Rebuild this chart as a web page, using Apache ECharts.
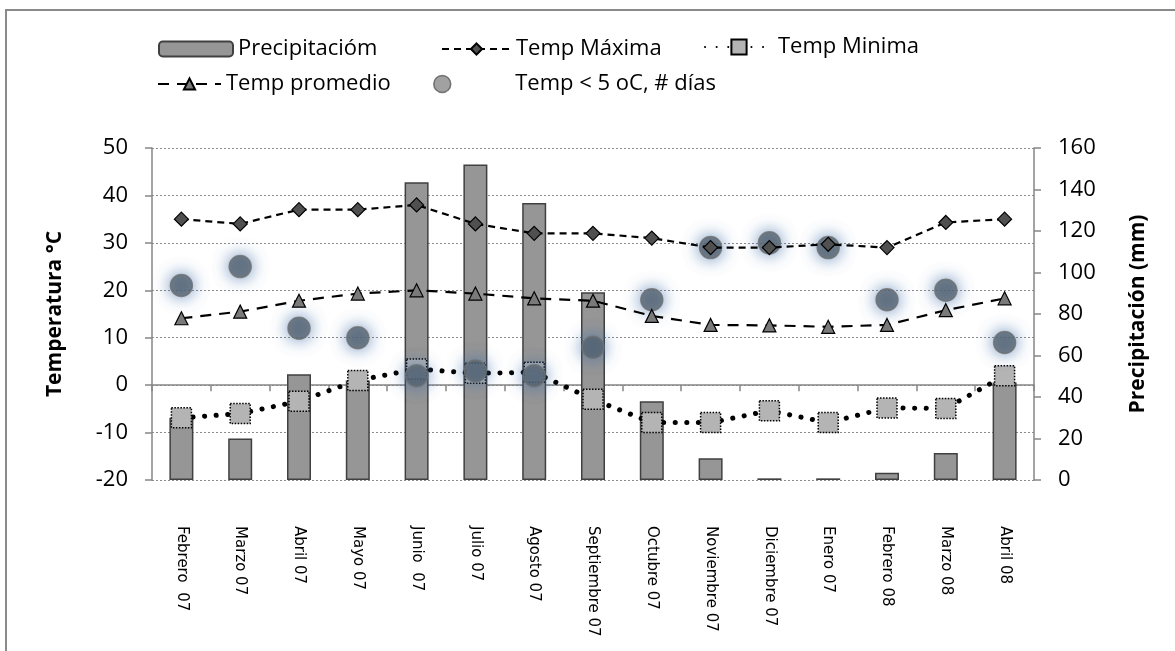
<!DOCTYPE html>
<html>
<head>
<meta charset="utf-8">
<script src="https://cdn.jsdelivr.net/npm/echarts@6/dist/echarts.min.js"></script>
<style>html,body{margin:0;padding:0;background:#fff;}#c{width:1175px;height:651px;}</style>
</head>
<body>
<div id="c"></div>
<script>
const months = ["Febrero  07","Marzo 07","Abril 07","Mayo 07","Junio  07","Julio 07","Agosto 07","Septiembre 07","Octubre 07","Noviembre 07","Diciembre 07","Enero 07","Febrero 08","Marzo 08","Abril 08"];
const precipitacion = [30, 20, 51, 48, 143.5, 152, 133.5, 90.5, 38, 10.5, 0.8, 0.8, 3.5, 13, 47];
const tempMax = [35, 34, 37, 37, 38, 34, 32, 32, 31, 29, 29, 29.7, 29, 34.3, 35];
const tempMin = [-6.9, -6, -3.4, 1, 3.4, 2.5, 2.7, -3, -7.9, -7.9, -5.4, -7.9, -4.8, -4.9, 2];
const tempProm = [14.1, 15.5, 17.8, 19.3, 20, 19.3, 18.3, 17.8, 14.6, 12.7, 12.6, 12.3, 12.7, 15.8, 18.3];
const diasBajo5 = [21, 25, 12, 10, 2, 3, 2, 8, 18, 29, 30, 29, 18, 20, 9];
const tempTicks = [-20, 50, 10];
const precTicks = [0, 160, 20];

const FONT = 'Open Sans';
const chart = echarts.init(document.getElementById('c'), null, {renderer:'canvas'});
const legendText = {fontFamily: FONT, fontSize: 22, color: '#000'};
function lg(name, left, top, w, h, extra) {
  return Object.assign({
    data: [name], left: left, top: top, itemWidth: w, itemHeight: h,
    textStyle: legendText, padding: 0, selectedMode: false
  }, extra || {});
}
chart.setOption({
  animation: false,
  backgroundColor: '#fff',
  grid: {left: 152, right: 141, top: 148, bottom: 171, containLabel: false},
  legend: [
    lg('Precipitacióm', 158, 38, 74, 15),
    lg('Temp Máxima', 441, 38, 69, 14),
    lg('Temp Minima', 704, 36, 68, 19),
    lg('Temp promedio', 157, 73, 63, 14),
    {data: [{name: 'Temp < 5 oC, # días', icon: 'circle',
      itemStyle: {color: '#8a8a8a', borderColor: '#5a5a5a', borderWidth: 1.5, shadowBlur: 0, shadowColor: 'rgba(0,0,0,0)'}}],
     left: 433, top: 73, itemWidth: 18, itemHeight: 17,
     textStyle: Object.assign({}, legendText, {padding: [0, 0, 0, 59]}), padding: 0, selectedMode: false}
  ],
  xAxis: [
    {type: 'category', data: months, position: 'bottom', boundaryGap: true,
     axisLine: {show: false, onZero: false}, axisTick: {show: false},
     axisLabel: {rotate: -90, interval: 0, margin: 46, fontFamily: 'DejaVu Sans', fontSize: 15, color: '#000'},
     splitLine: {show: false}},
    {type: 'category', data: months, position: 'bottom', boundaryGap: true,
     axisLine: {show: true, onZero: true, onZeroAxisIndex: 0, lineStyle: {color: '#868686', width: 1.5}},
     axisTick: {show: true, interval: 0, length: 6, lineStyle: {color: '#868686', width: 1.5}},
     axisLabel: {show: false}, splitLine: {show: false}}
  ],
  yAxis: [
    {type: 'value', min: tempTicks[0], max: tempTicks[1], interval: tempTicks[2], position: 'left',
     axisLine: {show: true, lineStyle: {color: '#868686', width: 1.5}},
     axisTick: {show: true, length: 7, lineStyle: {color: '#868686', width: 1.5}},
     axisLabel: {margin: 24, fontFamily: FONT, fontSize: 22, color: '#000'},
     splitLine: {show: true, lineStyle: {color: '#8c8c8c', type: [2, 2], width: 1}}},
    {type: 'value', min: precTicks[0], max: precTicks[1], interval: precTicks[2], position: 'right',
     axisLine: {show: true, lineStyle: {color: '#868686', width: 1.5}},
     axisTick: {show: true, length: 7, lineStyle: {color: '#868686', width: 1.5}},
     axisLabel: {margin: 24, fontFamily: FONT, fontSize: 22, color: '#000'},
     splitLine: {show: false}}
  ],
  series: [
    {name: 'Precipitacióm', type: 'bar', xAxisIndex: 0, yAxisIndex: 1, data: precipitacion, barWidth: 24,
     itemStyle: {color: '#969696', borderColor: '#404040', borderWidth: 1.5}, z: 1},
    {name: 'Temp Minima', type: 'line', xAxisIndex: 0, yAxisIndex: 0, data: tempMin,
     symbol: 'rect', symbolSize: 20,
     itemStyle: {color: '#b4b4b4', borderColor: '#000', borderWidth: 1.5, borderType: [1.5, 1.5]},
     lineStyle: {color: '#000', width: 5, type: [0.1, 11.5], cap: 'round'}, z: 3},
    {name: 'Temp < 5 oC, # días', type: 'scatter', xAxisIndex: 0, yAxisIndex: 0, data: diasBajo5,
     symbol: 'circle', symbolSize: 22,
     itemStyle: {color: '#56616c', borderColor: '#707070', borderWidth: 1.5, shadowBlur: 16, shadowColor: 'rgba(60,110,170,0.9)'}, z: 4},
    {name: 'Temp promedio', type: 'line', xAxisIndex: 0, yAxisIndex: 0, data: tempProm,
     symbol: 'triangle', symbolSize: 13,
     itemStyle: {color: '#7a7a7a', borderColor: '#000', borderWidth: 1.2},
     lineStyle: {color: '#000', width: 2.2, type: [11, 8]}, z: 5},
    {name: 'Temp Máxima', type: 'line', xAxisIndex: 0, yAxisIndex: 0, data: tempMax,
     symbol: 'diamond', symbolSize: 14,
     itemStyle: {color: '#505050', borderColor: '#000', borderWidth: 1.2},
     lineStyle: {color: '#000', width: 2.2, type: [7, 5]}, z: 6}
  ],
  graphic: [
    {type: 'rect', shape: {x: 6, y: 10, width: 1400, height: 900}, style: {fill: 'none', stroke: '#8a8a8a', lineWidth: 2}, z: -10, silent: true},
    {type: 'text', x: 55, y: 314, rotation: Math.PI / 2,
     style: {text: 'Temperatura °C', fontFamily: FONT, fontWeight: 'bold', fontSize: 21, fill: '#000', align: 'center', verticalAlign: 'middle'}},
    {type: 'text', x: 1138, y: 314, rotation: Math.PI / 2,
     style: {text: 'Precipitación (mm)', fontFamily: FONT, fontWeight: 'bold', fontSize: 21, fill: '#000', align: 'center', verticalAlign: 'middle'}}
  ]
});
</script>
</body>
</html>
